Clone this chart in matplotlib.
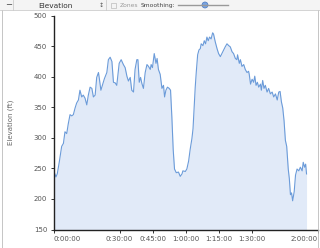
import matplotlib
matplotlib.use("Agg")
import matplotlib.pyplot as plt
from matplotlib.patches import Rectangle, Ellipse
from matplotlib.lines import Line2D

# tiempo en minutos, elevacion en pies
minutes = [0.0, 1.1, 1.7, 2.6, 3.7, 4.5, 5.2, 6.0, 6.7, 7.5, 8.3, 9.0, 9.8, 10.5,
           11.3, 12.0, 12.8, 13.5, 14.3, 15.1, 15.8, 16.6, 17.4, 18.1, 18.9, 19.6,
           20.4, 20.8, 21.5, 22.4, 23.1, 24.2, 24.9, 25.7, 26.5, 27.2, 28.0, 28.7,
           29.8, 30.7, 31.7, 32.5, 33.3, 34.0, 34.8, 35.5, 36.3, 37.0, 37.8, 38.3,
           38.9, 39.5, 40.1, 40.8, 41.6, 42.4, 43.1, 43.9, 44.3, 44.9, 45.7, 46.5,
           47.0, 47.6, 48.4, 49.2, 49.9, 50.4, 51.0, 51.7, 52.5, 53.1, 53.7, 54.3,
           54.9, 55.7, 56.7, 57.5, 58.3, 58.7, 59.8, 60.5, 61.3, 62.0, 62.8, 63.3,
           63.9, 64.3, 64.8, 65.4, 66.0, 66.6, 67.0, 67.8, 68.4, 69.0, 69.6, 70.2,
           70.8, 71.5, 72.2, 72.6, 73.4, 74.2, 74.9, 75.7, 76.4, 77.2, 77.9, 78.7,
           79.5, 80.2, 81.0, 81.7, 82.5, 83.2, 83.5, 84.3, 84.8, 85.5, 86.3, 87.0,
           87.8, 88.5, 88.8, 89.4, 90.1, 90.8, 91.3, 91.9, 92.5, 93.1, 93.9, 94.3,
           94.9, 95.5, 96.1, 96.9, 97.6, 98.4, 99.2, 99.9, 100.7, 101.5, 102.2,
           102.8, 103.4, 104.0, 104.6, 105.2, 105.8, 106.5, 107.0, 107.5, 108.0,
           108.5, 109.2, 109.8, 110.5, 111.3, 112.0, 112.8, 113.3, 113.9, 114.4,
           114.8]
elevation = [247, 236, 241, 260, 286, 291, 310, 307, 323, 338, 336, 338, 349, 357,
             362, 378, 367, 370, 365, 354, 370, 383, 381, 367, 370, 399,
             407, 397, 378, 389, 397, 407, 428, 432, 425, 391, 390, 386,
             422, 428, 420, 415, 401, 393, 399, 378, 375, 412, 428, 428,
             391, 399, 389, 381, 407, 420, 417, 412, 420, 415, 438, 422,
             430, 412, 404, 381, 386, 367, 378, 383, 381, 378, 334, 281,
             249, 243, 244, 237, 241, 246, 245, 249, 262, 281, 299, 315,
             357, 383, 409, 436, 444, 446, 454, 451, 459, 454, 465, 459,
             465, 462, 472, 470, 457, 446, 438, 433, 438, 444, 449, 454,
             451, 449, 441, 438, 430, 428, 436, 422, 428, 417, 420, 412,
             407, 409, 404, 388, 396, 391, 401, 386, 391, 383, 388, 378,
             394, 381, 386, 375, 381, 372, 375, 367, 372, 362, 375,
             376, 359, 349, 328, 296, 286, 249, 233, 207, 210,
             197, 212, 239, 249, 246, 252, 246, 260, 252, 257,
             241]

x_ticks = [0, 30, 45, 60, 75, 90, 120]
x_labels = ["0:00:00", "0:30:00", "0:45:00", "1:00:00", "1:15:00", "1:30:00", "2:00:00"]
y_ticks = [150, 200, 250, 300, 350, 400, 450, 500]

fig = plt.figure(figsize=(3.2, 2.48), dpi=100)
ax = fig.add_axes([53.5 / 320, 1 - 229.5 / 248, (318 - 53.5) / 320, (229.5 - 15.7) / 248])

ax.fill_between(minutes, elevation, 150, color="#e1eaf8", lw=0)
ax.plot(minutes, elevation, color="#6b9bd9", lw=0.8)

ax.set_xlim(0, 120)
ax.set_ylim(150, 500)
ax.set_xticks(x_ticks)
ax.set_xticklabels(x_labels)
ax.set_yticks(y_ticks)
ax.get_xticklabels()[0].set_horizontalalignment("left")
ax.get_xticklabels()[-1].set_horizontalalignment("right")

ax.tick_params(labelsize=5, colors="#555555", length=2.5, width=0.7, pad=2)
ax.tick_params(axis="both", color="#333333")
ax.spines["top"].set_visible(False)
ax.spines["right"].set_visible(False)
for s in ["left", "bottom"]:
    ax.spines[s].set_color("#222222")
    ax.spines[s].set_linewidth(1.0)
ax.set_ylabel("Elevation (ft)", fontsize=5, color="#666666", labelpad=14)

# marco y barra de herramientas
fig.add_artist(Rectangle((2 / 320, 0), 316 / 320, 1, transform=fig.transFigure,
                         fill=False, ec="#bbbbbb", lw=0.6))
fig.add_artist(Rectangle((0, 1 - 10 / 248), 1, 10 / 248, transform=fig.transFigure,
                         fc="#f4f4f4", ec="none"))
fig.add_artist(Line2D([0, 1], [1 - 10 / 248] * 2, transform=fig.transFigure,
                      color="#cccccc", lw=0.6))
for xs in [13, 106]:
    fig.add_artist(Line2D([xs / 320] * 2, [1 - 10 / 248, 1], transform=fig.transFigure,
                          color="#cccccc", lw=0.6))
fig.text(5 / 320, 1 - 5 / 248, "−", fontsize=6, color="#444444", va="center")
fig.text(38 / 320, 1 - 5.5 / 248, "Elevation", fontsize=5.3, color="#333333", va="center")
fig.text(99 / 320, 1 - 5 / 248, "↕", fontsize=4.5, color="#555555", va="center")
fig.add_artist(Rectangle((111 / 320, 1 - 8 / 248), 5 / 320, 5 / 248, transform=fig.transFigure,
                         fill=False, ec="#bbbbbb", lw=0.5))
fig.text(120 / 320, 1 - 5.5 / 248, "Zones", fontsize=4.3, color="#999999", va="center")
fig.text(141 / 320, 1 - 5.5 / 248, "Smoothing:", fontsize=4.3, color="#444444", va="center")
fig.add_artist(Line2D([178 / 320, 228 / 320], [1 - 5 / 248] * 2, transform=fig.transFigure,
                      color="#999999", lw=1.0))
fig.add_artist(Ellipse((205 / 320, 1 - 5 / 248), 6 / 320, 6 / 248, transform=fig.transFigure,
                       fc="#7aa4e0", ec="#4a78c0", lw=0.5))

fig.savefig("out.png", dpi=100)
